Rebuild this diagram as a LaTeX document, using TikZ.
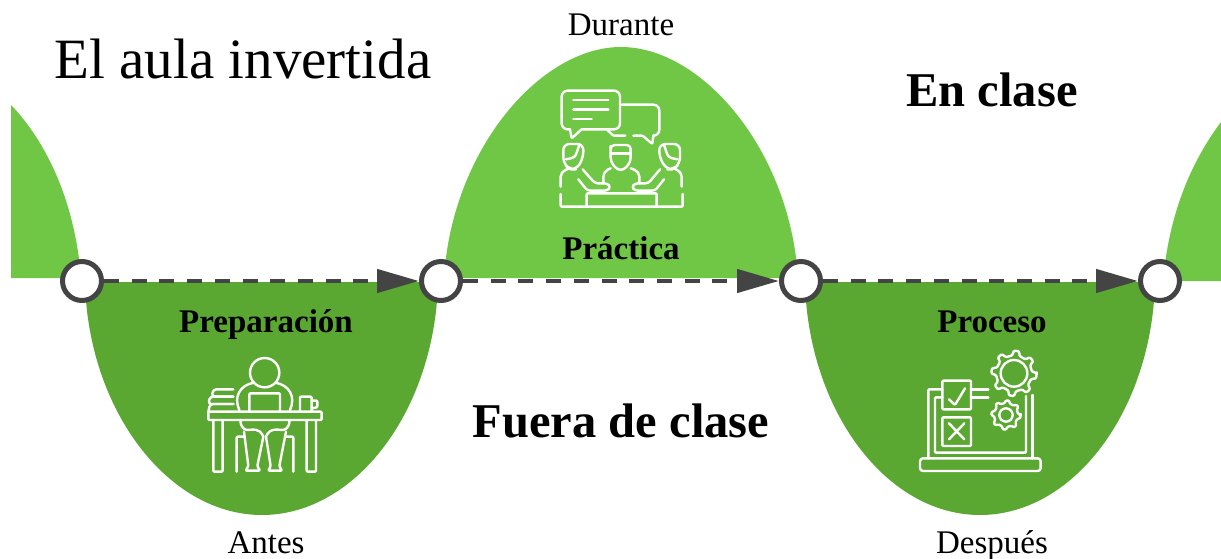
\documentclass[tikz,border=0pt]{standalone}
\usepackage{fontspec}
\setmainfont{Liberation Serif}
\usetikzlibrary{arrows.meta,calc}
\definecolor{lightgreen}{HTML}{70C645}
\definecolor{darkgreen}{HTML}{5AA832}
\definecolor{flowgray}{HTML}{444444}
\tikzset{
    stop/.style={circle, draw=flowgray, fill=white, line width=5pt, minimum size=39pt, inner sep=0pt},
    flow/.style={draw=flowgray, line width=4.5pt, dash pattern=on 15pt off 12.7pt, -{Triangle[length=42pt,width=23pt]}},
    icon/.style={draw=white, line width=2.4pt, line cap=round, line join=round, rounded corners=1pt},
    stage/.style={anchor=base, font=\fontsize{33}{36}\selectfont\bfseries},
    when/.style={anchor=base, font=\fontsize{33}{36}\selectfont},
    place/.style={anchor=base, font=\fontsize{48.5}{52}\selectfont\bfseries},
}
% one gear: centre, outer radius, depth of teeth, radius of the hole
\newcommand{\geardraw}[5]{
    \def\st{45}
    \draw[icon] ($(#1,#2)+(0:#3)$) \foreach \k in {1,...,8}{
        -- ($(#1,#2)+(\k*\st-0.72*\st:#3)$) -- ($(#1,#2)+(\k*\st-0.58*\st:#3-#4)$)
        -- ($(#1,#2)+(\k*\st-0.14*\st:#3-#4)$) -- ($(#1,#2)+(\k*\st:#3)$)
    } -- cycle;
    \draw[icon] (#1,#2) circle (#5);
}
\begin{document}
\begin{tikzpicture}[x=1pt, y=-1pt]
    \useasboundingbox (0,0) rectangle (1221,559);
    % humps above the line
    \fill[lightgreen] (11,278)--(11,105) .. controls (45,140) and (75,200) .. (81,278) --cycle;
    \fill[lightgreen] (444,278) .. controls (452,150) and (540,47) .. (621,47) .. controls (702,47) and (790,150) .. (798,278) --cycle;
    \fill[lightgreen] (1163,281) .. controls (1168,225) and (1185,170) .. (1221,122) -- (1221,281) --cycle;
    % humps below the line
    \fill[darkgreen] (85,282) .. controls (88,410) and (168,515) .. (262,515) .. controls (356,515) and (435,410) .. (438,282) --cycle;
    \fill[darkgreen] (805,282) .. controls (808,410) and (886,515) .. (980,515) .. controls (1074,515) and (1152,410) .. (1155,282) --cycle;

    \node[stop] (stopa) at (82,281) {};
    \node[stop] (stopb) at (441,281) {};
    \node[stop] (stopc) at (801,281) {};
    \node[stop] (stopd) at (1160,281) {};
    \draw[flow] (stopa) -- (stopb);
    \draw[flow] (stopb) -- (stopc);
    \draw[flow] (stopc) -- (stopd);

    \node[anchor=base, font=\fontsize{57}{60}\selectfont] (title) at (243,79) {El aula invertida};
    \node[when] (durante) at (621,36) {Durante};
    \node[when] (antes) at (266,553) {Antes};
    \node[when] (despues) at (992,553) {Después};
    \node[stage] (practica) at (621,259) {Práctica};
    \node[stage] (preparacion) at (266,332) {Preparación};
    \node[stage] (proceso) at (992,332) {Proceso};
    \node[place] (enclase) at (992,107) {En clase};
    \node[place] (fuera) at (621,437) {Fuera de clase};

    % group with bubbles, in crop units
    \begin{scope}[shift={(520,70)}, x=1/3*1pt, y=-1/3*1pt]
        \draw[icon, rounded corners=6pt] (185,178)--(300,178)--(300,62)--(125,62)--(125,178)--(150,178);
        \draw[icon] (150,178)--(155,205)--(185,178);
        \draw[icon] (160,90)--(265,90) (160,118)--(265,118) (160,147)--(215,147);
        \draw[icon, rounded corners=6pt] (305,104)--(418,104)--(418,197)--(400,197);
        \draw[icon] (400,197)--(397,222)--(368,197)--(340,197);
        \draw[icon] (316,197)--(280,197)--(262,180);
        % heads
        \draw[icon, rounded corners=6pt] (160,222)--(130,222)--(130,280)--(150,298)--(170,298)--(190,262)--(190,222)--cycle;
        \draw[icon, rounded corners=3pt] (138,268)--(165,262)--(178,225);
        \draw[icon, rounded corners=4pt] (272,240)--(272,225)--(332,225)--(332,275)--(312,300)--(292,300)--(272,275)--cycle;
        \draw[icon] (272,250)--(332,250);
        \draw[icon, rounded corners=6pt] (450,222)--(480,222)--(480,280)--(460,298)--(440,298)--(418,262)--(418,222)--cycle;
        \draw[icon, rounded corners=3pt] (472,268)--(445,262)--(432,225);
        % bodies and arms
        \draw[icon, rounded corners=5pt] (122,350)--(122,305)--(150,295);
        \draw[icon, rounded corners=3pt] (188,298)--(225,340)--(262,340)--(272,351)--(262,362)--(202,362)--(175,328);
        \draw[icon, rounded corners=5pt] (485,350)--(485,305)--(460,295);
        \draw[icon, rounded corners=3pt] (420,298)--(385,340)--(345,340)--(335,351)--(345,362)--(405,362)--(432,328);
        \draw[icon, rounded corners=5pt] (272,295)--(250,305)--(250,340);
        \draw[icon, rounded corners=5pt] (332,295)--(358,305)--(358,340);
        \draw[icon] (122,372)--(122,410)--(488,410)--(488,372);
        \draw[icon] (200,410)--(200,370)--(410,370)--(410,410);
    \end{scope}

    % person at desk
    \begin{scope}[shift={(180,340)}, x=1/3*1pt, y=-1/3*1pt]
        \draw[icon] (254,98) circle (44);
        \draw[icon] (178,210) .. controls (160,170) and (180,135) .. (222,128);
        \draw[icon] (330,210) .. controls (348,170) and (328,135) .. (286,128);
        \draw[icon] (208,212)--(208,160)--(300,160)--(300,212);
        \draw[icon] (85,215) rectangle (425,240);
        \draw[icon] (100,240)--(100,395)--(128,395)--(128,240);
        \draw[icon] (380,240)--(380,395)--(408,395)--(408,240);
        \draw[icon, rounded corners=3pt] (160,148)--(100,148)--(95,170)--(160,170);
        \draw[icon, rounded corners=3pt] (160,170)--(90,170)--(85,192)--(160,192);
        \draw[icon, rounded corners=3pt] (160,192)--(90,192)--(85,215);
        \draw[icon] (360,212)--(360,170)--(395,170)--(395,212);
        \draw[icon] (395,182)--(412,182)--(412,202)--(395,205);
        \draw[icon] (170,395)--(170,290)--(192,290);
        \draw[icon] (340,395)--(340,290)--(318,290);
        \draw[icon] (182,240) .. controls (180,262) and (195,270) .. (205,270) .. controls (240,265) and (245,280) .. (250,290);
        \draw[icon] (328,240) .. controls (330,262) and (315,270) .. (305,270) .. controls (270,265) and (262,280) .. (258,290);
        \draw[icon] (192,275)--(205,378)--(197,392)--(240,392)--(232,378)--(250,290);
        \draw[icon] (318,275)--(298,378)--(306,392)--(265,392)--(272,378)--(258,290);
    \end{scope}

    % laptop with checks and gears
    \begin{scope}[shift={(900,340)}, x=1/3*1pt, y=-1/3*1pt]
        \geardraw{342}{100}{68}{14}{40}
        \geardraw{318}{225}{44}{8}{20}
        \draw[icon] (127,122) rectangle (213,208);
        \draw[icon] (147,178)--(165,195)--(195,145);
        \draw[icon] (127,232) rectangle (213,318);
        \draw[icon] (147,250)--(193,298) (193,250)--(147,298);
        \draw[icon] (127,148)--(85,148)--(85,355);
        \draw[icon] (127,172)--(105,172)--(105,338)--(378,338)--(378,168);
        \draw[icon] (397,165)--(397,355);
        \draw[icon] (213,148)--(265,148) (213,172)--(265,172);
        \draw[icon, rounded corners=3pt] (60,355) rectangle (422,393);
    \end{scope}
\end{tikzpicture}
\end{document}
